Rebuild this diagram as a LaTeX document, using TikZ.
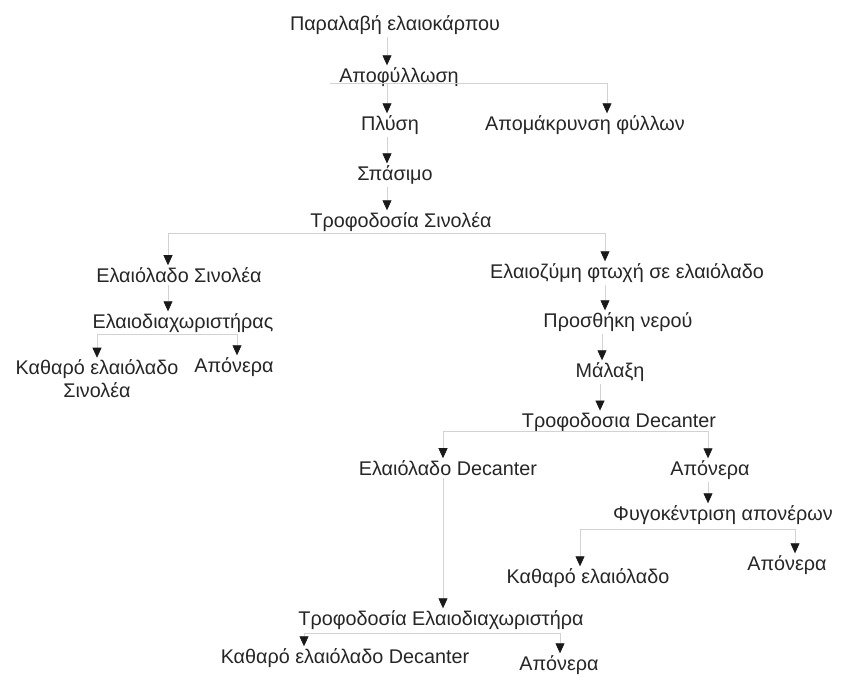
\documentclass[tikz,border=0pt]{standalone}
\usepackage{fontspec}
\setmainfont{Liberation Sans}
\usetikzlibrary{arrows.meta}

\begin{document}
\begin{tikzpicture}[
  x=1pt, y=-1pt,
  font=\fontsize{19.8}{23}\selectfont,
  stage/.style={inner sep=2pt, align=center, text=black!85},
  flow/.style={draw=gray!35, line width=0.6pt, -{Triangle[color=black!90, width=9pt, length=10pt]}},
  bar/.style={draw=gray!35, line width=0.6pt}
]
\useasboundingbox (0,0) rectangle (842,676);

% --- reception, defoliation, washing, crushing ---
\node[stage] (recv)   at (395,25)  {Παραλαβή ελαιοκάρπου};
\node[stage] (defol)  at (399,77)  {Αποφύλλωση};
\node[stage] (wash)   at (390,125) {Πλύση};
\node[stage] (leaves) at (585,125) {Απομάκρυνση φύλλων};
\node[stage] (crush)  at (395,175) {Σπάσιμο};
\node[stage] (feedS)  at (401,222) {Τροφοδοσία Σινολέα};

% --- Sinolea branch ---
\node[stage] (oilS)   at (179,275) {Ελαιόλαδο Σινολέα};
\node[stage] (sepS)   at (183,323) {Ελαιοδιαχωριστήρας};
\node[stage] (cleanS) at (97,379)  {Καθαρό ελαιόλαδο\\Σινολέα};
\node[stage] (waterS) at (234,367) {Απόνερα};

% --- paste to the decanter ---
\node[stage] (paste)  at (627,273) {Ελαιοζύμη φτωχή σε ελαιόλαδο};
\node[stage] (water)  at (618,322) {Προσθήκη νερού};
\node[stage] (malax)  at (610,372) {Μάλαξη};
\node[stage] (feedD)  at (619,422) {Τροφοδοσια Decanter};
\node[stage] (oilD)   at (448,468) {Ελαιόλαδο Decanter};
\node[stage] (waterD) at (710,470) {Απόνερα};
\node[stage] (cent)   at (723,515) {Φυγοκέντριση απονέρων};
\node[stage] (cleanC) at (588,578) {Καθαρό ελαιόλαδο};
\node[stage] (waterC) at (787,565) {Απόνερα};
\node[stage] (feedE)  at (441,620) {Τροφοδοσία Ελαιοδιαχωριστήρα};
\node[stage] (cleanD) at (345,658) {Καθαρό ελαιόλαδο Decanter};
\node[stage] (waterE) at (559,665) {Απόνερα};

% split points under each branching stage
\coordinate (b1)  at (330,83);
\coordinate (s1a) at (387,83);
\coordinate (s1b) at (607,83);
\coordinate (s2a) at (168,233);
\coordinate (s2b) at (605,233);
\coordinate (s3a) at (97,334);
\coordinate (s3b) at (237,334);
\coordinate (s4a) at (443,431);
\coordinate (s4b) at (708,431);
\coordinate (s5a) at (580,529);
\coordinate (s5b) at (795,529);
\coordinate (s6a) at (304,633);
\coordinate (s6b) at (560,633);

% horizontal bars
\draw[bar] (b1) -- (s1b);
\draw[bar] (s2a) -- (s2b);
\draw[bar] (s3a) -- (s3b);
\draw[bar] (s4a) -- (s4b);
\draw[bar] (s5a) -- (s5b);
\draw[bar] (s6a) -- (s6b);

% main line
\draw[flow] (recv.south -| s1a) -- (defol.north -| s1a);
\draw[flow] (s1a) -- (s1a |- wash.north);
\draw[flow] (s1b) -- (s1b |- leaves.north);
\draw[flow] (wash.south -| s1a) -- (crush.north -| s1a);
\draw[flow] (crush.south -| s1a) -- (feedS.north -| s1a);

% Sinolea
\draw[flow] (s2a) -- (s2a |- oilS.north);
\draw[flow] (oilS.south -| s2a) -- (sepS.north -| s2a);
\draw[flow] (s3a) -- (s3a |- cleanS.north);
\draw[flow] (s3b) -- (s3b |- waterS.north);

% decanter
\draw[flow] (s2b) -- (s2b |- paste.north);
\draw[flow] (paste.south -| s2b) -- (water.north -| s2b);
\draw[flow] ([xshift=-3pt]water.south -| s2b) -- ([xshift=-3pt]malax.north -| s2b);
\draw[flow] ([xshift=-5pt]malax.south -| s2b) -- ([xshift=-5pt]feedD.north -| s2b);
\draw[flow] (s4a) -- (s4a |- oilD.north);
\draw[flow] (s4b) -- (s4b |- waterD.north);
\draw[flow] (waterD.south -| s4b) -- (cent.north -| s4b);
\draw[flow] (s5a) -- (s5a |- cleanC.north);
\draw[flow] (s5b) -- (s5b |- waterC.north);
\draw[flow] (oilD.south -| s4a) -- (feedE.north -| s4a);
\draw[flow] (s6a) -- (s6a |- cleanD.north);
\draw[flow] (s6b) -- (s6b |- waterE.north);

\end{tikzpicture}
\end{document}
